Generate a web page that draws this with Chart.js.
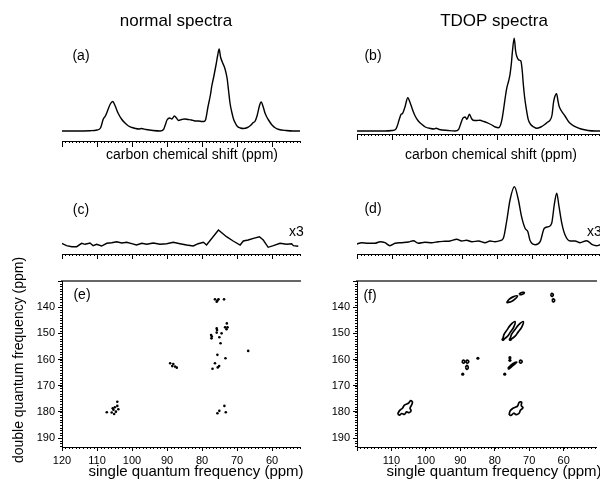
<!DOCTYPE html>
<html>
<head>
<meta charset="utf-8">
<script src="https://cdn.jsdelivr.net/npm/chart.js@4.4.0/dist/chart.umd.min.js"></script>
<style>
  html, body { margin: 0; padding: 0; background: #fff; }
  #wrap { position: relative; width: 600px; height: 481px; overflow: hidden; }
  #wrap canvas { position: absolute; left: 0; top: 0; }
</style>
</head>
<body>
<div id="wrap">
  <canvas id="chartA" width="600" height="481"></canvas>
  <canvas id="chartB" width="600" height="481"></canvas>
  <canvas id="chartC" width="600" height="481"></canvas>
  <canvas id="chartD" width="600" height="481"></canvas>
  <canvas id="chartE" width="600" height="481"></canvas>
  <canvas id="chartF" width="600" height="481"></canvas>
</div>
<script>
// (a) normal 1D spectrum
const ppmA = [120,116,112,110,109,108.2,107.6,107,106.2,105.5,104.8,104,103,102,101,100,99,98,97.3,96,94,92,91,90.5,90,89.2,88.6,87.9,87.3,86.7,85.8,85,84,83,82,81,80,79.5,79,78.3,77.6,77.2,76.6,76,75.5,75.1,74.7,74.2,73.6,73.2,72.8,72.4,72,71.5,71,70.5,70,69,68.2,67,66,65.5,64.8,64.2,63.6,63.1,62.5,62,61.5,61,60,59,58,56,54,52];
const intA = [0,0,0.3,1,3,12,15,20,27,29.5,25,18,12,8,5,3.5,2.5,2,2.5,1.5,0.5,0,1.5,6,11,13,12,15,13,10.5,11.5,12,11.5,11,10,10,9.5,9.5,11,24,36,45,55,66,76,82,74,69,64,59,52,40,28,19,12,8,5,3,2.5,3.5,6,8,10,16,25,29,24,18,14,11,6,3,1.5,0.5,0,0];

// (b) TDOP 1D spectrum
const ppmB = [120,116,112,110,109,108.5,107.9,107.4,107,106.3,105.5,104.8,104,103.4,102.5,101.5,100.5,99,98,97.4,96.5,94,92,91,90.3,89.8,89.1,88.6,87.9,87.3,86.8,85.8,84.9,83.8,82.9,81.5,80.5,79.6,79,78.5,78,77.6,77.2,76.7,76.3,75.9,75.6,75.1,74.7,74.4,73.8,73.2,72.8,72.5,72.1,71.7,71.1,70.5,69.5,68.7,67.5,66.3,65.5,64.9,64.3,63.9,63.6,63,62.6,62.3,61.6,60.6,59.5,58.5,57.7,56,54,52,50.6];
const intB = [0,0,0,0.5,1.5,5,12,16.7,17.5,24,33.3,28,20,15,10,6.7,4,2.5,2,2.8,1.5,0.5,0,1.5,8,12.7,14,11.7,16.7,12.5,10.7,10.5,10.7,9.5,8.3,6,4,3.3,6,13.3,25,35,43.3,50,56.7,68,80,92.7,80,75,71,70,60,46.7,33,23.3,11.7,7,4,2.7,4,6.7,9,10.7,16,28,33.3,37.3,30,25,20,15,9,6,4.3,2,0.5,0,0];

// (c) normal DQ-filtered spectrum (x3)
const ppmC = [120.1,118.7,117.2,115.8,114.4,113.4,112,111.1,110.1,108.7,107.2,105.8,104.4,102.9,101.5,100.1,98.7,97.2,95.8,93.9,92,90.1,88.2,86.3,84.4,82.5,81.1,79.6,78.7,75.3,73,71.1,69.1,68.2,66.8,65.3,63.6,62.5,61.1,59.6,57.7,55.8,54.4,53.9,52.5];
const intC = [4.7,2.3,1.3,1.3,4.7,3.7,5,2.3,3.7,2,4.7,5.3,6.3,5,5.7,4.3,3,4.7,3.7,5,3.7,4.3,5.7,4.3,3,2,4.3,5.7,3,18,11.3,7,3,7,8,9.7,11.3,8,0.7,2.3,4.7,3.7,4.3,2.3,1.7];

// (d) TDOP DQ-filtered spectrum (x3)
const ppmD = [120.1,118.7,116.8,114.9,113.4,112,110.6,109.1,107.2,105.3,103.9,102.5,100.6,98.7,96.8,94.9,93.4,91.5,90.1,88.7,87.2,85.3,83.4,82,80.6,79.1,78.2,77.2,76.3,75.05,73.9,73,72,71.2,70.6,69.1,67.7,66.5,65.3,64.4,63.6,62.95,62.3,61.5,60.6,59.1,57.7,56.3,54.4,52.95,51.5,50.6];
const intD = [3,4.3,3.7,3.7,5.3,4.3,1.3,3.7,4.3,5,6.3,3.7,4.7,4.3,5.3,5.7,6,7.7,6,6.7,5.3,6,4.3,6,5.3,6.3,8.7,27,47,60.3,47,30.3,18.7,15.3,6.7,2.3,5.3,18.7,20.3,23.7,43.7,53.7,40.3,23.7,12.3,6,6,4.3,6.3,2.7,1.3,2.3];

// (e) 2D peaks, normal: [single quantum, double quantum] in ppm
const peaksE = [[76.3,137],[75.8,137.9],[75.3,137],[75.6,137.5],[73.7,137],[75.8,148.1],[75.7,148.7],[75.8,149.7],[77.4,150.6],[77.3,151.9],[77.2,151.2],[75.05,151.5],[74.4,150],[74.7,153.8],[73.4,147.7],[72.7,147.7],[73,148.4],[72.9,146.2],[66.8,156.7],[75.6,158.2],[73.3,159.5],[76.3,161.4],[77,163.5],[75.5,163],[75.1,162.5],[89.1,161.4],[88.2,161.7],[87.7,162.7],[87.2,163.1],[88.5,162.5],[107.2,180.1],[105.8,180.2],[105.3,179.2],[104.9,178.2],[104.2,177.7],[104.2,176.1],[105.1,180.8],[104.6,179.9],[105.5,178.6],[103.9,179],[75.6,180.5],[75.05,179.6],[73.6,177.7],[73.2,180.1]];

// (f) 2D contours, TDOP
const contourA1 = [[76.6,138.3],[75.32,137.93],[74.24,137.05],[73.4,135.7],[74.68,136.07],[75.76,136.95],[76.6,138.3]];
const contourA2 = [[72.9,135.2],[72.1,135.1],[71.4,134.5],[72.0,134.3],[72.7,134.7],[72.9,135.2]];
const contourB1 = [[63.8,135.3],[63.4,135.9],[63.0,135.3],[63.4,134.7],[63.8,135.3]];
const contourB2 = [[63.4,137.4],[63.0,138.0],[62.6,137.4],[63.0,136.8],[63.4,137.4]];
const contourC1 = [[77.7,152.5],[76.33,151.18],[75.43,149.43],[74.53,147.68],[74.1,145.5],[75.47,146.82],[76.37,148.57],[77.27,150.32],[77.7,152.5]];
const contourC2 = [[75.6,152.5],[74.16,151.18],[73.18,149.43],[72.21,147.68],[71.7,145.5],[73.15,146.82],[74.12,148.57],[75.1,150.32],[75.6,152.5]];
const contourD1 = [[89.55,160.8],[89.1,161.4],[88.65,160.8],[89.1,160.2],[89.55,160.8]];
const contourD2 = [[88.45,160.8],[88.0,161.4],[87.55,160.8],[88.0,160.2],[88.45,160.8]];
const contourD3 = [[88.5,163],[88.1,163.8],[87.7,163],[88.1,162.2],[88.5,163]];
const contourE1 = [[76.2,163.3],[75.3,162.1],[74.3,161.2],[73.6,161.0],[74.1,161.6],[75.0,162.6],[75.9,163.6],[76.2,163.3]];
const contourE2 = [[72.95,160.8],[72.5,161.4],[72.05,160.8],[72.5,160.2],[72.95,160.8]];
const contourF = [[108.2,180.8],[107.6,179.4],[106.8,178.6],[106.3,177.5],[105.6,177.0],[105.0,176.6],[104.4,175.7],[103.9,176.3],[104.2,177.5],[104.6,178.6],[104.3,179.6],[104.9,180.3],[105.6,180.0],[106.2,180.9],[107.0,180.6],[107.6,181.2],[108.2,180.8]];
const contourG = [[75.8,181.2],[75.6,179.8],[74.9,178.8],[74.2,178.3],[73.4,177.8],[72.9,176.4],[72.2,176.3],[72.3,177.6],[71.8,178.4],[72.5,179.3],[73.0,180.6],[73.8,181.0],[74.5,180.5],[75.2,181.3],[75.8,181.2]];
const peaksF = [[89.3,165.6],[77.1,165.6],[84.9,159.5],[75.6,159.3],[75.6,160.3],[77.6,152.3],[75.5,152.3]];

const sqTickLabels = [120, 110, 100, 90, 80, 70, 60];
const dqTickLabels = [140, 150, 160, 170, 180, 190];

const FONT = "Liberation Sans, Arial, sans-serif";
Chart.defaults.font.family = FONT;
Chart.defaults.color = "#000";

// short minor ticks every 1 ppm, placed with the scale itself
const minorTicks = {
  id: "minorTicks",
  afterDraw(chart, args, opts) {
    const ctx = chart.ctx;
    (opts.axes || []).forEach((a) => {
      const scale = chart.scales[a.id];
      ctx.save();
      ctx.strokeStyle = "#000";
      ctx.lineWidth = 1;
      ctx.beginPath();
      for (let v = Math.ceil(scale.min); v <= scale.max; v++) {
        const p = Math.round(scale.getPixelForValue(v)) + 0.5;
        if (scale.isHorizontal()) {
          ctx.moveTo(p, scale.top);
          ctx.lineTo(p, scale.top + a.len);
        } else {
          ctx.moveTo(scale.right, p);
          ctx.lineTo(scale.right - a.len, p);
        }
      }
      ctx.stroke();
      ctx.restore();
    });
  },
};

// panel letters, headings and axis captions
const panelText = {
  id: "panelText",
  afterDraw(chart, args, opts) {
    const ctx = chart.ctx;
    (opts.items || []).forEach((t) => {
      ctx.save();
      ctx.font = t.font;
      ctx.fillStyle = "#000";
      ctx.textAlign = t.align || "center";
      ctx.textBaseline = "middle";
      ctx.translate(t.x, t.y);
      if (t.rotate) ctx.rotate(t.rotate);
      ctx.fillText(t.text, 0, 0);
      ctx.restore();
    });
  },
};

Chart.register(minorTicks, panelText);

function spectrumChart(id, ppm, intensity, o) {
  return new Chart(document.getElementById(id), {
    type: "scatter",
    data: {
      datasets: [
        {
          data: ppm.map((x, i) => ({ x: x, y: intensity[i] })),
          showLine: true,
          borderColor: "#000",
          borderWidth: 1.4,
          pointRadius: 0,
          cubicInterpolationMode: o.smooth ? "monotone" : "default",
          tension: 0,
        },
      ],
    },
    options: {
      responsive: false,
      animation: false,
      events: [],
      layout: {
        padding: { left: o.left, right: 600 - o.right, top: o.top, bottom: 481 - o.bottom - o.axisH },
      },
      plugins: {
        legend: { display: false },
        tooltip: { enabled: false },
        minorTicks: { axes: [{ id: "x", len: 2 }] },
        panelText: { items: o.texts },
      },
      scales: {
        x: {
          type: "linear",
          min: o.xMin,
          max: 120,
          reverse: true,
          afterFit: (s) => { s.height = o.axisH; },
          ticks: { display: false, stepSize: 10, includeBounds: false },
          grid: { drawOnChartArea: false, tickLength: o.tickLen, color: "#000" },
          border: { color: "#000", width: 1 },
        },
        y: { display: false, min: o.yMin, max: o.yMax },
      },
    },
  });
}

function contourChart(id, datasets, o) {
  const tickFont = { size: 11, family: FONT };
  return new Chart(document.getElementById(id), {
    type: "scatter",
    data: { datasets: datasets },
    options: {
      responsive: false,
      animation: false,
      events: [],
      layout: { padding: { left: o.padLeft, right: 600 - o.right, top: 281, bottom: 0 } },
      plugins: {
        legend: { display: false },
        tooltip: { enabled: false },
        minorTicks: { axes: [{ id: "x", len: 2 }, { id: "y", len: 2 }] },
        panelText: { items: o.texts },
      },
      scales: {
        x: {
          type: "linear",
          position: "bottom",
          min: o.xMin,
          max: 120,
          reverse: true,
          afterFit: (s) => { s.height = 34; },
          ticks: {
            stepSize: 10,
            includeBounds: false,
            autoSkip: false,
            maxRotation: 0,
            padding: 3,
            font: tickFont,
            callback: (v) => (o.xLabels.includes(v) ? v : ""),
          },
          grid: { drawOnChartArea: false, tickLength: 4, color: "#000" },
          border: { color: "#000", width: 1 },
        },
        xTop: {
          type: "linear",
          axis: "x",
          position: "top",
          min: o.xMin,
          max: 120,
          reverse: true,
          afterFit: (s) => { s.height = 0; },
          ticks: { display: false },
          grid: { display: false },
          border: { color: "#666", width: 2 },
        },
        y: {
          type: "linear",
          min: 130,
          max: 193.4,
          reverse: true,
          afterFit: (s) => { s.width = o.yWidth; },
          ticks: {
            stepSize: 10,
            includeBounds: false,
            padding: 3,
            font: tickFont,
            callback: (v) => (dqTickLabels.includes(v) ? v : ""),
          },
          grid: { drawOnChartArea: false, tickLength: 4, color: "#000" },
          border: { color: "#000", width: 1 },
        },
      },
    },
  });
}

const toPoints = (arr) => arr.map((p) => ({ x: p[0], y: p[1] }));
const contourSet = (arr) => ({
  data: toPoints(arr),
  showLine: true,
  borderColor: "#000",
  borderWidth: 1.7,
  pointRadius: 0,
  tension: 0.4,
});
const dotSet = (arr, r) => ({
  data: toPoints(arr),
  showLine: false,
  pointRadius: r,
  pointStyle: "circle",
  backgroundColor: "#000",
  borderWidth: 0,
});

const titleFont = "17px " + FONT;
const letterFont = "14px " + FONT;
const captionFont = "14px " + FONT;
const axisFont = "15px " + FONT;

spectrumChart("chartA", ppmA, intA, {
  left: 62, right: 300, top: 41, bottom: 141, axisH: 8, tickLen: 6,
  xMin: 52, yMin: -10, yMax: 90, smooth: true,
  texts: [
    { text: "normal spectra", x: 176, y: 21, font: titleFont },
    { text: "(a)", x: 81, y: 56, font: letterFont },
    { text: "carbon chemical shift (ppm)", x: 192, y: 155, font: captionFont },
  ],
});

spectrumChart("chartB", ppmB, intB, {
  left: 357, right: 600, top: 36, bottom: 134, axisH: 8, tickLen: 6,
  xMin: 50.6, yMin: -3, yMax: 95, smooth: true,
  texts: [
    { text: "TDOP spectra", x: 494, y: 21, font: titleFont },
    { text: "(b)", x: 373, y: 56, font: letterFont },
    { text: "carbon chemical shift (ppm)", x: 491, y: 155, font: captionFont },
  ],
});

spectrumChart("chartC", ppmC, intC, {
  left: 62, right: 300, top: 205, bottom: 254, axisH: 8, tickLen: 5,
  xMin: 52, yMin: -6, yMax: 43, smooth: false,
  texts: [
    { text: "(c)", x: 81, y: 210, font: letterFont },
    { text: "x3", x: 289, y: 232, font: letterFont, align: "left" },
  ],
});

spectrumChart("chartD", ppmD, intD, {
  left: 357, right: 600, top: 185, bottom: 254, axisH: 8, tickLen: 5,
  xMin: 50.6, yMin: -7, yMax: 62, smooth: true,
  texts: [
    { text: "(d)", x: 373, y: 209, font: letterFont },
    { text: "x3", x: 587, y: 232, font: letterFont, align: "left" },
  ],
});

contourChart("chartE", [dotSet(peaksE, 1.3)], {
  padLeft: 0, yWidth: 62, right: 300, xMin: 52, xLabels: sqTickLabels,
  texts: [
    { text: "(e)", x: 82, y: 295, font: letterFont },
    { text: "double quantum frequency (ppm)", x: 19, y: 360, font: captionFont, rotate: -Math.PI / 2 },
    { text: "single quantum frequency (ppm)", x: 196, y: 472, font: axisFont },
  ],
});

contourChart("chartF", [
  contourSet(contourA1), contourSet(contourA2), contourSet(contourB1), contourSet(contourB2),
  contourSet(contourC1), contourSet(contourC2), contourSet(contourD1), contourSet(contourD2),
  contourSet(contourD3), contourSet(contourE1), contourSet(contourE2), contourSet(contourF),
  contourSet(contourG), dotSet(peaksF, 1.6),
], {
  padLeft: 300, yWidth: 57, right: 600, xMin: 50.6, xLabels: sqTickLabels.slice(1),
  texts: [
    { text: "(f)", x: 370, y: 296, font: letterFont },
    { text: "single quantum frequency (ppm)", x: 494, y: 472, font: axisFont },
  ],
});
</script>
</body>
</html>
